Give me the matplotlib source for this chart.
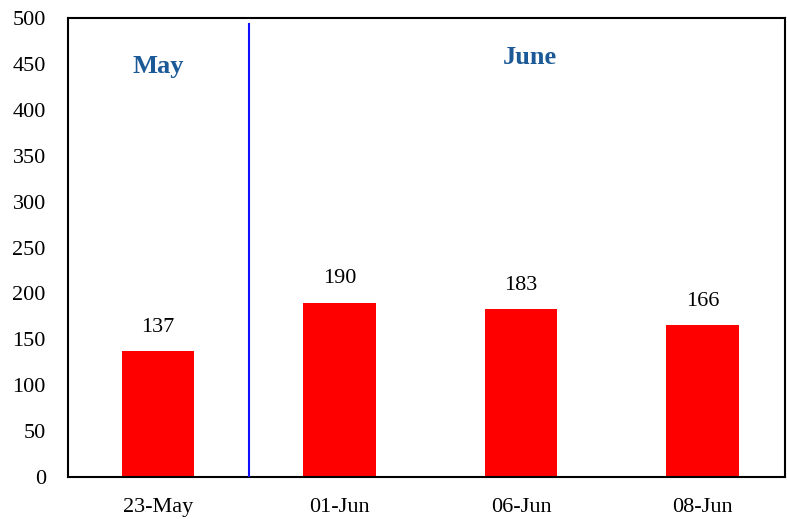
import matplotlib
matplotlib.use("Agg")
import matplotlib.pyplot as plt

categories = ["23-May", "01-Jun", "06-Jun", "08-Jun"]
values = [137, 190, 183, 166]
yticks = [0, 50, 100, 150, 200, 250, 300, 350, 400, 450, 500]

plt.rcParams['font.family'] = ['Liberation Serif', 'DejaVu Serif']

fig = plt.figure(figsize=(7.87, 5.19), dpi=100)
ax = fig.add_axes([68/787, 1-477/519, (785-68)/787, (477-18)/519])

x = list(range(len(categories)))
ax.bar(x, values, width=0.40, color='#FF0000', zorder=2)
for xi, v in zip(x, values):
    ax.annotate(str(v), (xi, v), xytext=(0, 17), textcoords='offset points',
                ha='center', va='center', fontsize=16)

ax.set_xlim(-0.496, 3.455)
ax.set_ylim(0, 500)
ax.set_yticks(yticks)
ax.set_xticks(x)
ax.set_xticklabels(categories)
ax.tick_params(axis='both', length=0, labelsize=16)
ax.tick_params(axis='x', pad=15)
ax.tick_params(axis='y', pad=16)
for s in ax.spines.values():
    s.set_linewidth(1.5)
    s.set_color('black')

ax.plot([0.5, 0.5], [0, 494], color='#1010FF', linewidth=1.5, zorder=3)
ax.text(0, 447, "May", ha='center', va='center', fontsize=19, fontweight='bold', color='#1B5A96')
ax.text(2.05, 456.5, "June", ha='center', va='center', fontsize=19, fontweight='bold', color='#1B5A96')

fig.savefig("out.png", dpi=100)
